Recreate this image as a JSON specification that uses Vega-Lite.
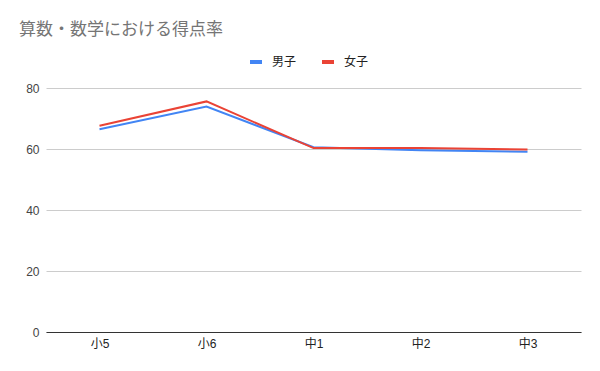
{
  "$schema": "https://vega.github.io/schema/vega-lite/v6.json",
  "autosize": "none",
  "width": 535,
  "height": 244,
  "padding": {"left": 46, "top": 88, "right": 19, "bottom": 39},
  "background": "white",
  "title": {
    "text": "算数・数学における得点率",
    "anchor": "start",
    "frame": "group",
    "dx": -27,
    "offset": 15,
    "fontSize": 17,
    "fontWeight": "normal",
    "color": "#757575",
    "font": "Noto Sans CJK JP"
  },
  "data": {
    "values": [
      {"grade": "小5", "sex": "男子", "rate": 66.5},
      {"grade": "小6", "sex": "男子", "rate": 73.9},
      {"grade": "中1", "sex": "男子", "rate": 60.6},
      {"grade": "中2", "sex": "男子", "rate": 59.6},
      {"grade": "中3", "sex": "男子", "rate": 59.1},
      {"grade": "小5", "sex": "女子", "rate": 67.6},
      {"grade": "小6", "sex": "女子", "rate": 75.6},
      {"grade": "中1", "sex": "女子", "rate": 60.3},
      {"grade": "中2", "sex": "女子", "rate": 60.3},
      {"grade": "中3", "sex": "女子", "rate": 59.8}
    ]
  },
  "mark": {"type": "line", "strokeWidth": 2},
  "encoding": {
    "x": {
      "field": "grade",
      "type": "ordinal",
      "sort": ["小5", "小6", "中1", "中2", "中3"],
      "scale": {"type": "point", "padding": 0.5},
      "axis": {
        "title": null,
        "labelAngle": 0,
        "domainColor": "#333333",
        "domainWidth": 1,
        "ticks": false,
        "labelPadding": 6,
        "labelFontSize": 12,
        "labelColor": "#222222",
        "labelFont": "Liberation Sans, Noto Sans CJK JP",
        "grid": false
      }
    },
    "y": {
      "field": "rate",
      "type": "quantitative",
      "scale": {"domain": [0, 80], "nice": false, "zero": true},
      "axis": {
        "title": null,
        "values": [0, 20, 40, 60, 80],
        "domain": false,
        "ticks": false,
        "labelPadding": 7,
        "labelFontSize": 12,
        "labelColor": "#444444",
        "labelFont": "Liberation Sans",
        "gridColor": "#cccccc",
        "gridWidth": 1
      }
    },
    "color": {
      "field": "sex",
      "type": "nominal",
      "sort": ["男子", "女子"],
      "scale": {"domain": ["男子", "女子"], "range": ["#4285F4", "#EA4335"]},
      "legend": {
        "title": null,
        "orient": "none",
        "direction": "horizontal",
        "legendX": 202,
        "legendY": -34,
        "padding": 0,
        "symbolType": "stroke",
        "symbolSize": 144,
        "symbolStrokeWidth": 4,
        "labelOffset": 8,
        "columnPadding": 17,
        "labelFontSize": 12,
        "labelColor": "#222222",
        "labelFont": "Noto Sans CJK JP"
      }
    }
  },
  "config": {"view": {"stroke": null}}
}
